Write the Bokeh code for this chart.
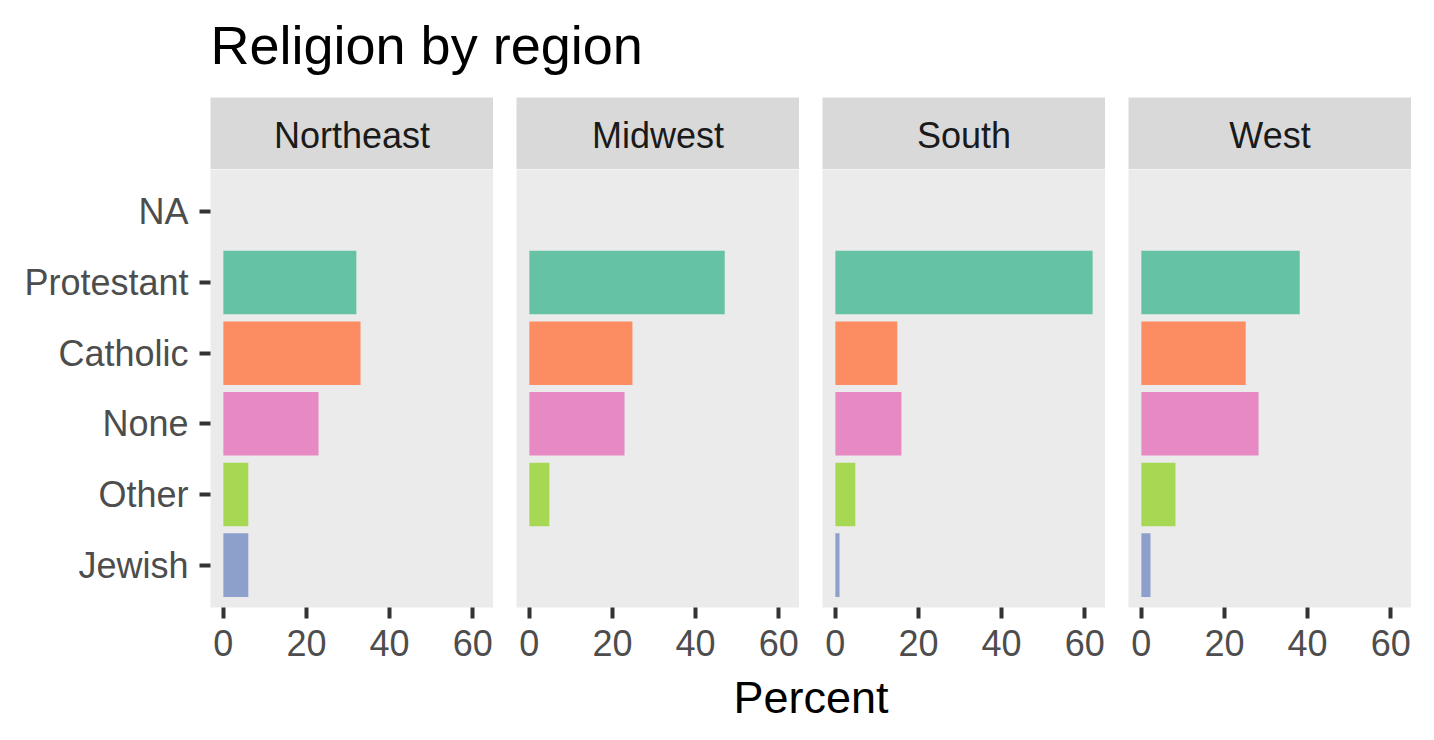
from bokeh.plotting import figure
from bokeh.layouts import row, column
from bokeh.models import Range1d, FactorRange, FixedTicker, ColumnDataSource, Title
from bokeh.core.properties import value
from bokeh.embed import file_html
from bokeh.resources import INLINE

# ---------------- data ----------------
title_text = "Religion by region"
x_label = "Percent"
regions = ["Northeast", "Midwest", "South", "West"]
# bottom-to-top order of the categorical axis
religions = ["Jewish", "Other", "None", "Catholic", "Protestant", "NA"]
religion_colors = ["#8DA0CB", "#A6D854", "#E78AC3", "#FC8D62", "#66C2A5", "#999999"]
x_ticks = [0, 20, 40, 60]
# percentages per region, same order as religions (None = no bar)
northeast = [6.0, 6.0, 22.9, 33.0, 32.0, None]
midwest = [None, 4.8, 22.9, 24.8, 47.0, None]
south = [1.0, 4.8, 15.9, 14.9, 61.9, None]
west = [2.2, 8.2, 28.2, 25.1, 38.1, None]
region_values = [northeast, midwest, south, west]

# ---------------- style ----------------
FONT = "Liberation Sans"
FRAME_W = 283
GAP = 23
LEFT = 210
TOP = 97
STRIP_H = 72
PANEL_H = 438
BOTTOM = 62
TOTAL_W = len(regions) * FRAME_W + (len(regions) - 1) * GAP


def blank(frame_w, frame_h, left, bg):
    f = figure(frame_width=frame_w, frame_height=frame_h, min_border_left=left,
               min_border_right=0, min_border_top=0, min_border_bottom=0,
               x_range=Range1d(0, 1), y_range=Range1d(0, 1),
               x_axis_location=None, y_axis_location=None,
               toolbar_location=None, output_backend="svg",
               background_fill_color=bg, border_fill_color="white",
               outline_line_color=None)
    f.grid.visible = False
    return f


# title
top = blank(TOTAL_W, TOP, LEFT, "white")
top.text(x=[0], y=[0.545], text=[title_text], text_align="left",
         text_baseline="middle", text_font=value(FONT),
         text_font_size="54px", text_color="black")

all_vals = [v for vals in region_values for v in vals if v is not None]
xmax = max(all_vals)
x_range = Range1d(-0.05 * xmax, xmax * 1.05)

strips = []
panels = []
for i, (reg, vals) in enumerate(zip(regions, region_values)):
    lb = LEFT if i == 0 else GAP
    # strip
    s = blank(FRAME_W, STRIP_H, lb, "#D9D9D9")
    s.text(x=[0.5], y=[0.47], text=[reg], text_align="center",
           text_baseline="middle", text_font=value(FONT),
           text_font_size="36px", text_color="#1A1A1A")
    strips.append(s)

    # panel
    cats = [r for r, v in zip(religions, vals) if v is not None]
    vv = [v for v in vals if v is not None]
    cc = [c for c, v in zip(religion_colors, vals) if v is not None]
    src = ColumnDataSource(dict(y=cats, right=vv, color=cc))
    p = figure(frame_width=FRAME_W, frame_height=PANEL_H, min_border_left=lb,
               min_border_right=0, min_border_top=0, min_border_bottom=BOTTOM,
               x_range=x_range,
               y_range=FactorRange(factors=religions, range_padding=0.1,
                                   range_padding_units="absolute"),
               y_axis_location="left" if i == 0 else None,
               toolbar_location=None, output_backend="svg",
               background_fill_color="#EBEBEB", border_fill_color="white",
               outline_line_color=None)
    p.grid.visible = False
    p.hbar(y="y", left=0, right="right", height=0.9, fill_color="color",
           line_color=None, source=src)
    axes = [p.xaxis[0]] + ([p.yaxis[0]] if i == 0 else [])
    for ax in axes:
        ax.axis_line_color = None
        ax.major_tick_line_color = "#333333"
        ax.major_tick_line_width = 4
        ax.major_tick_out = 11
        ax.major_tick_in = 0
        ax.minor_tick_line_color = None
        ax.major_label_text_font = FONT
        ax.major_label_text_font_size = "36px"
        ax.major_label_text_color = "#4D4D4D"
    p.xaxis.ticker = FixedTicker(ticks=x_ticks)
    p.xaxis.major_label_standoff = 11
    if i == 0:
        p.yaxis.major_label_standoff = 11
    panels.append(p)

# x-axis title as a centred Title above a tiny blank frame
lab = blank(TOTAL_W, 2, LEFT, "white")
lab.add_layout(Title(text=x_label, align="center", text_font=FONT,
                     text_font_size="45px", text_font_style="normal",
                     text_color="black", standoff=0, offset=0), "above")

layout = column(top, row(*strips), row(*panels), lab)
open("out.html", "w").write(file_html(layout, INLINE))
